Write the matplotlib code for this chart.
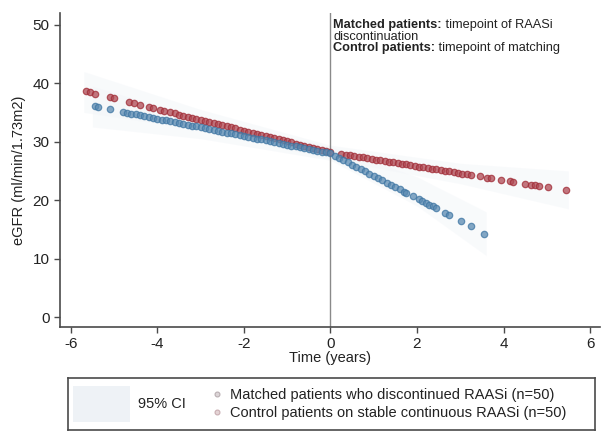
import matplotlib
matplotlib.use("Agg")
import matplotlib.pyplot as plt
from matplotlib.patches import Rectangle
from matplotlib.lines import Line2D

plt.rcParams['font.family'] = ['Liberation Sans', 'DejaVu Sans']

# fitted eGFR per observation, matched patients (discontinued RAASi)
matched_t = [-5.44, -5.38, -5.10, -4.8, -4.7, -4.6, -4.5, -4.4, -4.3, -4.2, -4.1, -4.0,
             -3.9, -3.8, -3.7, -3.6, -3.5, -3.4, -3.3, -3.2, -3.1, -3.0, -2.9, -2.8,
             -2.7, -2.6, -2.5, -2.4, -2.3, -2.2, -2.1, -2.0, -1.9, -1.8, -1.7, -1.6,
             -1.5, -1.4, -1.3, -1.2, -1.1, -1.0, -0.9, -0.8, -0.7, -0.6, -0.5, -0.4,
             -0.3, -0.2, -0.1, 0.0,
             0.1, 0.2, 0.3, 0.4, 0.5, 0.6, 0.7, 0.8, 0.9, 1.0, 1.1, 1.2, 1.3, 1.4,
             1.5, 1.6, 1.7, 1.75, 1.9, 2.05, 2.12, 2.2, 2.28, 2.36, 2.45, 2.64, 2.75,
             3.02, 3.25, 3.56]
matched_egfr = [36.05, 35.96, 35.55, 35.10, 34.96, 34.81, 34.66, 34.51, 34.36, 34.22,
                34.07, 33.92, 33.77, 33.62, 33.48, 33.33, 33.18, 33.03, 32.88, 32.74,
                32.59, 32.44, 32.29, 32.14, 32.00, 31.85, 31.70, 31.55, 31.40, 31.26,
                31.11, 30.96, 30.81, 30.66, 30.52, 30.37, 30.22, 30.07, 29.92, 29.78,
                29.63, 29.48, 29.33, 29.18, 29.04, 28.89, 28.74, 28.59, 28.44, 28.30,
                28.15, 28.00,
                27.62, 27.23, 26.85, 26.46, 26.08, 25.69, 25.31, 24.92, 24.54, 24.15,
                23.77, 23.38, 23.00, 22.61, 22.23, 21.84, 21.46, 21.26, 20.69, 20.11,
                19.84, 19.53, 19.22, 18.91, 18.57, 17.84, 17.41, 16.37, 15.49, 14.29]

# fitted eGFR per observation, control patients (stable RAASi)
control_t = [-5.65, -5.55, -5.45, -5.10, -5.00, -4.65, -4.55, -4.40, -4.20, -4.10,
             -3.95, -3.85, -3.7, -3.6, -3.5, -3.4, -3.3, -3.2, -3.1, -3.0, -2.9, -2.8,
             -2.7, -2.6, -2.5, -2.4, -2.3, -2.2, -2.1, -2.0, -1.9, -1.8, -1.7, -1.6,
             -1.5, -1.4, -1.3, -1.2, -1.1, -1.0, -0.9, -0.8, -0.7, -0.6, -0.5, -0.4,
             -0.3, -0.2, -0.1, 0.0,
             0.25, 0.35, 0.45, 0.55, 0.65, 0.75, 0.85, 0.95, 1.05, 1.15, 1.25, 1.35,
             1.45, 1.55, 1.65, 1.75, 1.85, 1.95, 2.05, 2.15, 2.25, 2.35, 2.45, 2.55,
             2.65, 2.75, 2.85, 2.95, 3.05, 3.15, 3.25, 3.45, 3.62, 3.72, 3.95, 4.14,
             4.22, 4.49, 4.64, 4.73, 4.83, 5.03, 5.45]
control_egfr = [38.60, 38.41, 38.23, 37.58, 37.40, 36.76, 36.57, 36.30, 35.93, 35.74,
                35.47, 35.28, 35.01, 34.82, 34.64, 34.46, 34.27, 34.09, 33.90, 33.72,
                33.54, 33.35, 33.17, 32.98, 32.80, 32.62, 32.43, 32.25, 32.06, 31.88,
                31.70, 31.51, 31.33, 31.14, 30.96, 30.78, 30.59, 30.41, 30.22, 30.04,
                29.86, 29.67, 29.49, 29.30, 29.12, 28.94, 28.75, 28.57, 28.38, 28.20,
                27.90, 27.78, 27.66, 27.54, 27.42, 27.30, 27.18, 27.06, 26.94, 26.82,
                26.70, 26.58, 26.46, 26.34, 26.22, 26.10, 25.98, 25.86, 25.74, 25.62,
                25.50, 25.38, 25.26, 25.14, 25.02, 24.90, 24.78, 24.66, 24.54, 24.42,
                24.30, 24.06, 23.86, 23.74, 23.46, 23.23, 23.14, 22.81, 22.63, 22.52,
                22.40, 22.16, 21.66]

# 95% confidence band knots
matched_ci_t = [-5.5, -3.0, 0.0, 2.0, 3.6]
matched_ci_lo = [32.5, 30.5, 26.8, 19.0, 10.5]
matched_ci_hi = [39.5, 34.0, 29.2, 24.0, 18.0]
control_ci_t = [-5.7, -3.0, 0.0, 3.0, 5.5]
control_ci_lo = [35.0, 32.0, 27.0, 22.8, 18.5]
control_ci_hi = [42.0, 35.5, 29.4, 26.3, 25.0]

xticks = [-6, -4, -2, 0, 2, 4, 6]
yticks = [0, 10, 20, 30, 40, 50]

note_bold = ['Matched patients:', None, 'Control patients:']
note_rest = [' timepoint of RAASi', 'discontinuation', ' timepoint of matching']

red = '#a02c36'
red_face = '#b04a54'
blue = '#3f76a3'
blue_face = '#5a8ab2'
axis_col = '#4a4a4a'
band_col = '#f3f6f9'
text_col = '#222222'

fig = plt.figure(figsize=(6.06, 4.45), dpi=100)
ax = fig.add_axes([60 / 606, 1 - 327 / 445, 540 / 606, 314 / 445])

ax.fill_between(matched_ci_t, matched_ci_lo, matched_ci_hi, color=band_col, alpha=0.5, lw=0)
ax.fill_between(control_ci_t, control_ci_lo, control_ci_hi, color=band_col, alpha=0.5, lw=0)

ax.axvline(0, color='#8a8a8a', lw=1.0, zorder=1)

ax.plot(control_t, control_egfr, ls='none', marker='o', ms=4.6, mew=0.9,
        mec=red, mfc=red_face, alpha=0.75, zorder=3)
ax.plot(matched_t, matched_egfr, ls='none', marker='o', ms=4.6, mew=0.9,
        mec=blue, mfc=blue_face, alpha=0.75, zorder=3)

ax.set_xlim(-6.25, 6.23)
ax.set_ylim(-1.7, 52)
ax.set_xticks(xticks)
ax.set_yticks(yticks)
ax.set_xticklabels([str(v) for v in xticks])
ax.set_yticklabels([str(v) for v in yticks])

for s in ['top', 'right']:
    ax.spines[s].set_visible(False)
for s in ['left', 'bottom']:
    ax.spines[s].set_color(axis_col)
    ax.spines[s].set_linewidth(1.2)
ax.tick_params(colors=axis_col, labelcolor=text_col, labelsize=11, length=4, width=1)

ax.set_xlabel('Time (years)', fontsize=10.5, color=text_col, labelpad=0)
ax.set_ylabel('eGFR (ml/min/1.73m2)', fontsize=10.5, color=text_col, labelpad=5)

# note next to the zero line: bold lead-in followed by plain text
line_y = [50.9, 49.0, 47.1]
for y, b, r in zip(line_y, note_bold, note_rest):
    if b is None:
        ax.text(0.06, y, r, fontsize=9.2, color=text_col, va='top', ha='left')
        continue
    tb = ax.text(0.06, y, b, fontsize=9.2, color=text_col, va='top', ha='left',
                 fontweight='bold')
    ax.annotate(r, xy=(1, 0), xycoords=tb, fontsize=9.2, color=text_col,
                va='bottom', ha='left')

# legend box
lax = fig.add_axes([68 / 606, 1 - 430 / 445, 527 / 606, 52 / 445])
lax.set_xlim(0, 527)
lax.set_ylim(0, 52)
lax.set_xticks([])
lax.set_yticks([])
for s in lax.spines.values():
    s.set_color(axis_col)
    s.set_linewidth(1.2)
lax.add_patch(Rectangle((5, 8), 57, 36, color='#eef2f6', lw=0))
lax.text(70, 26, '95% CI', fontsize=10.5, color=text_col, va='center', ha='left')
handles = [Line2D([], [], ls='none', marker='o', ms=3.5, mec='#b8aeb1', mfc='#dcd5d7', mew=0.8),
           Line2D([], [], ls='none', marker='o', ms=3.5, mec='#c8adb1', mfc='#e4d3d5', mew=0.8)]
lax.legend(handles, ['Matched patients who discontinued RAASi (n=50)',
                     'Control patients on stable continuous RAASi (n=50)'],
           loc='center left', bbox_to_anchor=(0.25, 0.5), frameon=False, fontsize=10.5,
           handlelength=0.9, handletextpad=0.5, labelspacing=0.25, borderpad=0.2,
           labelcolor=text_col)

fig.savefig('out.png', dpi=100, facecolor='white')
